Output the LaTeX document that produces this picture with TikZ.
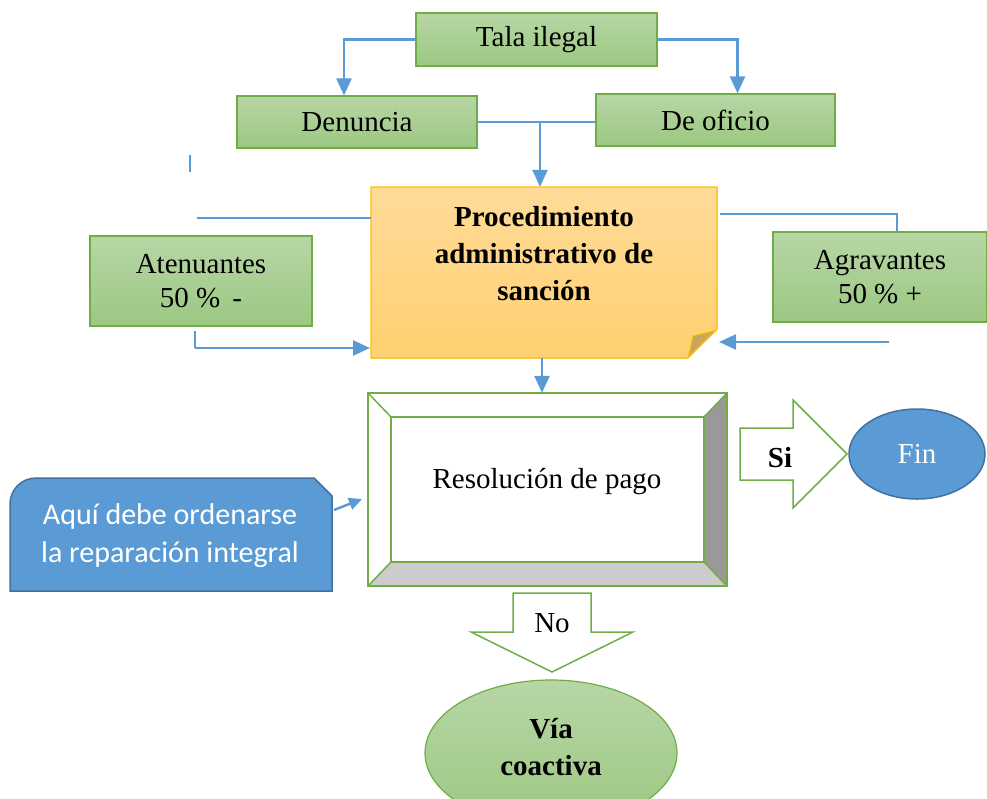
\documentclass[tikz,border=0pt]{standalone}
\usepackage{fontspec}
\setmainfont{Liberation Serif}
\newfontfamily\calfont{Carlito}
\usetikzlibrary{arrows.meta,shapes.geometric,calc}
\definecolor{cblue}{RGB}{91,155,213}
\definecolor{dblue}{RGB}{65,113,156}
\definecolor{gborder}{RGB}{112,173,71}
\definecolor{gtop}{RGB}{183,214,165}
\definecolor{gbot}{RGB}{156,200,130}
\definecolor{otop}{RGB}{255,219,153}
\definecolor{obot}{RGB}{255,208,112}
\definecolor{oborder}{RGB}{255,192,0}
\definecolor{foldc}{RGB}{204,165,92}
\tikzset{
  gbox/.style={draw=gborder,line width=1.2pt,top color=gtop,bottom color=gbot,align=center,inner sep=0pt,font=\fontsize{29}{34}\selectfont},
  arr/.style={draw=cblue,line width=2.5pt,-{Triangle[length=17pt,width=15pt]}},
  thinl/.style={draw=cblue,line width=1.5pt},
  txt/.style={font=\fontsize{29}{34}\selectfont,align=center,inner sep=0pt},
}
\begin{document}
\begin{tikzpicture}[x=1pt,y=-1pt]
\useasboundingbox (0,0) rectangle (987,798);
% top boxes
\node[gbox,minimum width=241,minimum height=53] (tala) at (536.5,39.5) {\raisebox{-2pt}{Tala ilegal}};
\node[gbox,minimum width=240,minimum height=52] (den) at (357,122) {\raisebox{-2pt}{Denuncia}};
\node[gbox,minimum width=239,minimum height=52] (ofi) at (715.5,120) {\raisebox{-2pt}{De oficio}};
% procedimiento (folded note)
\node[minimum width=346,minimum height=171,inner sep=0pt] (proc) at (544,272.5) {};
\fill[top color=otop,bottom color=obot] (371,187) -- (717,187) -- (717,329) -- (688,358) -- (371,358) -- cycle;
\fill[foldc] (688,358) -- (693,336) -- (717,330) -- cycle;
\draw[oborder,line width=1.2pt] (371,187) -- (717,187) -- (717,329) -- (688,358) -- (371,358) -- cycle;
\draw[oborder,line width=1pt] (688,358) -- (693,336) -- (717,330);
\node[txt,font=\fontsize{29}{37}\selectfont\bfseries] (proctxt) at (544,254) {Procedimiento\\administrativo de\\sanción};
% side boxes
\node[gbox,minimum width=222,minimum height=90] (ate) at (201,281) {Atenuantes\\50 \% \,-};
\node[gbox,minimum width=214,minimum height=90] (agr) at (880,277) {Agravantes\\50 \% +};
% connectors top
\draw[arr] (tala.west) -| ([xshift=-13]den.north);
\draw[arr] (tala.east) -| ([xshift=22]ofi.north);
\draw[thinl] (den.east) -- (ofi.west |- den.east);
\coordinate (mid) at (540,122);
\draw[arr] (mid) -- (mid |- proc.north);
\coordinate (tick1) at (190,155);
\coordinate (tick2) at (190,172);
\draw[cblue,line width=1.2pt] (tick1) -- (tick2);
\coordinate (l1) at (197,218);
\draw[thinl] (l1) -- (l1 -| proc.west);
\coordinate (r1) at (720,214);
\draw[thinl] (r1) -| ([xshift=17]agr.north);
\coordinate (a1) at (195,331);
\coordinate (a2) at (195,348);
\draw[cblue,line width=1.5pt] (a1) -- (a2);
\draw[arr] (a2) -- (370,348);
\coordinate (g1) at (889,342);
\draw[arr] (g1) -- (719,342);
% resolucion bevel
\node[minimum width=359,minimum height=193,inner sep=0pt] (res) at (547.5,489.5) {};
\fill[white] (368,393) rectangle (727,586);
\fill[black!40] (727,393) -- (704,417) -- (704,562) -- (727,586) -- cycle;
\fill[black!20] (368,586) -- (391,562) -- (704,562) -- (727,586) -- cycle;
\draw[gborder,line width=2pt] (368,393) rectangle (727,586);
\draw[gborder,line width=2pt] (391,417) rectangle (704,562);
\draw[gborder,line width=1.5pt] (368,393) -- (391,417) (727,393) -- (704,417) (727,586) -- (704,562) (368,586) -- (391,562);
\node[txt] (restxt) at (547,482) {Resolución de pago};
\draw[arr] (proc.south -| 542,0) -- (res.north -| 542,0);
% callout
\node[minimum width=322,minimum height=113,inner sep=0pt] (call) at (171,534.5) {};
\draw[fill=cblue,draw=dblue,line width=1.5pt] (10,591) [rounded corners=26] -- (10,478) [sharp corners] -- (314,478) -- (332,496) -- (332,591) -- cycle;
\node[txt,font=\calfont\fontsize{30}{38}\selectfont,text=white] (calltxt) at (170,536) {Aquí debe ordenarse\\la reparación integral};
\coordinate (c1) at (334,510);
\draw[draw=cblue,line width=2.5pt,-{Triangle[length=13pt,width=12pt]}] (c1) -- (362,499);
% Si arrow
\draw[gborder,line width=1.5pt,fill=white] (740,428) -- (793,428) -- (793,400) -- (847,454) -- (793,508) -- (793,480) -- (740,480) -- cycle;
\node[txt,font=\fontsize{29}{34}\selectfont\bfseries] (si) at (780,458) {Si};
\node[ellipse,fill=cblue,draw=dblue,line width=1.5pt,minimum width=136,minimum height=90,inner sep=0pt,text=white,font=\fontsize{29}{34}\selectfont] (fin) at (917,454) {Fin};
% No arrow
\draw[gborder,line width=1.5pt,fill=white] (513,593) -- (591,593) -- (591,632) -- (633,632) -- (552,672) -- (471,632) -- (513,632) -- cycle;
\node[txt] (no) at (552,623) {No};
\node[ellipse,draw=gborder,line width=1.2pt,top color=gtop,bottom color=gbot,minimum width=252,minimum height=146,inner sep=0pt] (via) at (551,753) {};
\node[txt,font=\fontsize{29}{37}\selectfont\bfseries] (viatxt) at (551,747) {Vía\\coactiva};
\end{tikzpicture}
\end{document}
